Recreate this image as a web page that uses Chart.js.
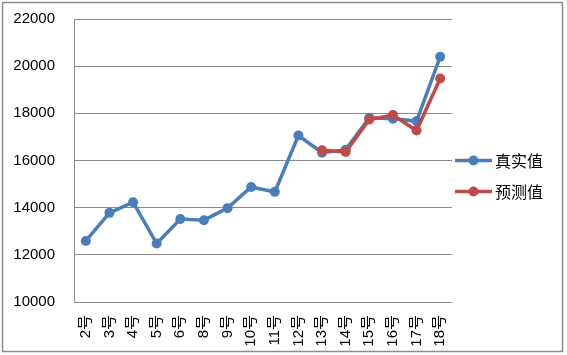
<!DOCTYPE html>
<html>
<head>
<meta charset="utf-8">
<script src="https://cdn.jsdelivr.net/npm/chart.js@4/dist/chart.umd.min.js"></script>
<style>
  html, body { margin: 0; padding: 0; background: #fff; }
  canvas { display: block; }
</style>
</head>
<body>
<canvas id="chart" width="567" height="355"></canvas>
<script>
const days = ['2号', '3号', '4号', '5号', '6号', '8号', '9号', '10号', '11号', '12号', '13号', '14号', '15号', '16号', '17号', '18号'];
const actual = [12590, 13780, 14230, 12480, 13520, 13470, 13980, 14880, 14670, 17060, 16330, 16460, 17810, 17770, 17670, 20400];
const predicted = [null, null, null, null, null, null, null, null, null, null, 16430, 16360, 17740, 17930, 17270, 19480];
const yTicks = [10000, 12000, 14000, 16000, 18000, 20000, 22000];

const blue = '#4a7ebb';
const red = '#be4b48';
const gridGray = '#8a8a8a';

// border round the whole picture + legend on the right (line with marker)
const frameAndLegend = {
    id: 'frameAndLegend',
    afterDraw(chart) {
        const c = chart.ctx;
        c.save();
        c.strokeStyle = '#8c8c8c';
        c.lineWidth = 1.5;
        c.strokeRect(2.5, 2.5, 560, 349);

        const rows = [160.5, 191.5];
        chart.data.datasets.forEach((ds, i) => {
            const y = rows[i];
            c.strokeStyle = ds.borderColor;
            c.lineWidth = 3.5;
            c.beginPath();
            c.moveTo(455, y);
            c.lineTo(492, y);
            c.stroke();
            c.fillStyle = ds.borderColor;
            c.beginPath();
            c.arc(473.5, y, 5, 0, Math.PI * 2);
            c.fill();
            c.fillStyle = '#000';
            c.font = '16px "Noto Sans CJK SC"';
            c.textBaseline = 'middle';
            c.textAlign = 'left';
            c.fillText(ds.label, 495, y);
        });
        c.restore();
    }
};

new Chart(document.getElementById('chart'), {
    type: 'line',
    data: {
        labels: days,
        datasets: [
            { label: '真实值', data: actual, borderColor: blue, backgroundColor: blue, borderWidth: 3.5, pointRadius: 5, pointHoverRadius: 5, pointBorderWidth: 0, tension: 0, order: 1 },
            { label: '预测值', data: predicted, borderColor: red, backgroundColor: red, borderWidth: 3.5, pointRadius: 5, pointHoverRadius: 5, pointBorderWidth: 0, tension: 0, order: 0 }
        ]
    },
    options: {
        responsive: false,
        animation: false,
        layout: { padding: { left: 0, right: 115, top: 19, bottom: 0 } },
        plugins: { legend: { display: false }, tooltip: { enabled: false } },
        scales: {
            x: {
                offset: true,
                grid: { display: false },
                border: { display: false },
                ticks: {
                    autoSkip: false, minRotation: 90, maxRotation: 90, padding: 5,
                    color: '#000', font: { family: '"Liberation Sans", "Noto Sans CJK SC"', size: 15 }
                },
                afterFit(scale) { scale.height = 53; scale.paddingLeft = 0; scale.paddingRight = 0; }
            },
            y: {
                min: 10000, max: 22000,
                afterBuildTicks(scale) { scale.ticks = yTicks.map(v => ({ value: v })); },
                grid: { color: gridGray, lineWidth: 1, drawTicks: false },
                border: { display: true, color: gridGray, width: 1 },
                ticks: {
                    padding: 19, color: '#000',
                    font: { family: '"Liberation Sans"', size: 15 },
                    callback: v => String(v)
                },
                afterFit(scale) { scale.width = 74; scale.paddingTop = 0; scale.paddingBottom = 0; }
            }
        }
    },
    plugins: [frameAndLegend]
});
</script>
</body>
</html>
